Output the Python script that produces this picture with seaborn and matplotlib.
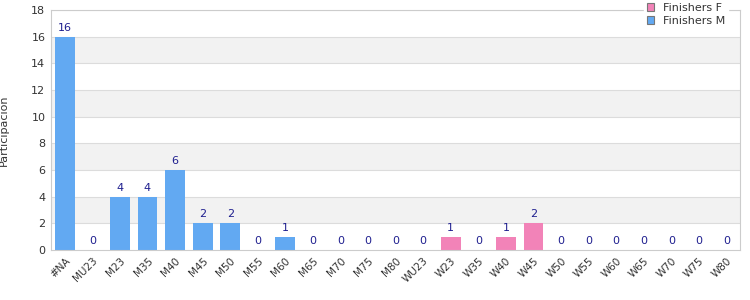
import matplotlib
matplotlib.use("Agg")
import matplotlib.pyplot as plt
import seaborn as sns
import numpy as np
from matplotlib.patches import Patch

categories = ["#NA", "MU23", "M23", "M35", "M40", "M45", "M50", "M55", "M60", "M65",
              "M70", "M75", "M80", "WU23", "W23", "W35", "W40", "W45", "W50", "W55",
              "W60", "W65", "W70", "W75", "W80"]
finishers_m = [16, 0, 4, 4, 6, 2, 2, 0, 1, 0, 0, 0, 0, 0, 0, 0, 0, 0, 0, 0, 0, 0, 0, 0, 0]
finishers_f = [0, 0, 0, 0, 0, 0, 0, 0, 0, 0, 0, 0, 0, 0, 1, 0, 1, 2, 0, 0, 0, 0, 0, 0, 0]
y_ticks = [0, 2, 4, 6, 8, 10, 12, 14, 16, 18]

sns.set_style("white")
plt.rcParams['font.family'] = ['DejaVu Sans']

blue = "#62a9f2"
pink = "#f283b8"

fig = plt.figure(figsize=(7.5, 3), dpi=100)
ax = fig.add_axes([0.068, 0.167, 0.919, 0.8])

# alternating bands
for i in range(len(y_ticks) - 1):
    if i % 2 == 1:
        ax.axhspan(y_ticks[i], y_ticks[i + 1], color="#f2f2f2", zorder=0, lw=0)
for t in y_ticks[1:]:
    ax.axhline(t, color="#dcdcdc", lw=0.8, zorder=0.5)

sns.barplot(x=categories, y=finishers_m, color=blue, width=0.72, ax=ax,
            saturation=1, zorder=2, linewidth=0, edgecolor="none")
sns.barplot(x=categories, y=finishers_f, bottom=finishers_m, color=pink, width=0.72,
            ax=ax, saturation=1, zorder=2, linewidth=0, edgecolor="none")

totals = np.array(finishers_m) + np.array(finishers_f)
for i, v in enumerate(totals):
    ax.text(i, v + 0.3, str(v), ha="center", va="bottom", fontsize=8,
            color="#1f1f8f", zorder=3)

ax.set_ylim(0, 18)
ax.set_xlim(-0.5, len(categories) - 0.5)
ax.set_yticks(y_ticks)
ax.set_yticklabels([str(t) for t in y_ticks], fontsize=8, color="#333333")
ax.set_xticks(range(len(categories)))
ax.set_xticklabels(categories, rotation=45, ha="right", rotation_mode="anchor",
                   fontsize=7.5, color="#333333")
ax.tick_params(axis="both", length=0, pad=4)
ax.set_ylabel("Participación", fontsize=8, color="#333333", labelpad=16)
ax.set_xlabel("")

for s in ax.spines.values():
    s.set_color("#cccccc")
    s.set_linewidth(0.8)

handles = [Patch(facecolor=pink, edgecolor="#777777", lw=0.8, label="Finishers F"),
           Patch(facecolor=blue, edgecolor="#777777", lw=0.8, label="Finishers M")]
leg = ax.legend(handles=handles, loc="upper right", bbox_to_anchor=(0.99, 1.06),
                frameon=True, fontsize=8, handlelength=0.7, handleheight=0.7,
                handletextpad=0.8, labelspacing=0.25, borderpad=0.2, fancybox=False)
leg.get_frame().set_edgecolor("white")
leg.get_frame().set_facecolor("white")
leg.get_frame().set_alpha(1)
leg.set_zorder(5)
for t in leg.get_texts():
    t.set_color("#333333")

fig.savefig("out.png", dpi=100)
